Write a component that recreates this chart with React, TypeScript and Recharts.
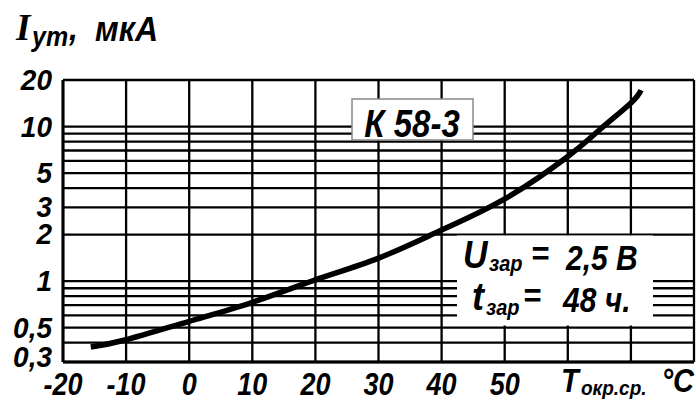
import React from 'react';
import { LineChart, Line, XAxis, YAxis, CartesianGrid } from 'recharts';

// Leakage current vs ambient temperature, capacitor K 58-3
const temps = [-15.6, -10, 0, 10, 20, 30, 40, 50, 60, 65, 70, 71.6];
const current = [0.375, 0.418, 0.55, 0.73, 1.02, 1.41, 2.14, 3.4, 6.4, 9.5, 14.2, 17.2];

const xTicks = [-20, -10, 0, 10, 20, 30, 40, 50, 60, 70, 80];
const xLabels = [-20, -10, 0, 10, 20, 30, 40, 50];
const yTicks = [0.3, 0.4, 0.5, 0.6, 0.7, 0.8, 0.9, 1, 2, 3, 4, 5, 6, 7, 8, 9, 10, 20];
const yLabels = [0.3, 0.5, 1, 2, 3, 5, 10, 20];

const data = temps.map((t, i) => ({ t, i: current[i] }));

const SANS = "'Liberation Sans', Arial, sans-serif";

// bold italic text, stretched a bit vertically like the scan
const Txt = ({ x, y, size, sy = 1.1, anchor = 'start', serif = false, children }: any) => (
  <text
    transform={`translate(${x},${y}) scale(1,${sy})`}
    textAnchor={anchor}
    fontSize={size}
    fontFamily={serif ? "'Liberation Serif', 'Times New Roman', serif" : SANS}
    fontWeight={700}
    fontStyle="italic"
    fill="#000"
  >
    {children}
  </text>
);

const XTick = ({ x, y, payload }: any) => {
  if (!xLabels.includes(payload.value)) return null;
  return <Txt x={x} y={y + 33} size={27} sy={1.15} anchor="middle">{payload.value}</Txt>;
};

const YTick = ({ x, y, payload }: any) => {
  const v = payload.value;
  if (!yLabels.includes(v)) return null;
  const dy = v === 0.3 ? 5 : v === 2 ? 9 : 10;
  return <Txt x={x} y={y + dy} size={28} sy={1.05} anchor="end">{String(v).replace('.', ',')}</Txt>;
};

export default function App() {
  return (
    <div style={{ position: 'absolute', left: 0, top: 0, width: 696, height: 403, background: '#fff' }}>
      <LineChart width={696} height={403} data={data} margin={{ top: 80, right: 2, bottom: 0, left: 0 }}>
        <CartesianGrid stroke="#000" strokeWidth={2.3} />
        <XAxis
          dataKey="t"
          type="number"
          domain={[-20, 80]}
          ticks={xTicks}
          height={41}
          tickSize={0}
          tickMargin={0}
          tickLine={false}
          axisLine={{ stroke: '#000', strokeWidth: 3 }}
          tick={<XTick />}
          interval={0}
        />
        <YAxis
          type="number"
          scale="log"
          domain={[0.3, 20]}
          ticks={yTicks}
          allowDataOverflow
          width={63}
          tickSize={0}
          tickMargin={11}
          tickLine={false}
          axisLine={{ stroke: '#000', strokeWidth: 3 }}
          tick={<YTick />}
          interval={0}
        />
        <Line
          type="natural"
          dataKey="i"
          stroke="#000"
          strokeWidth={5.5}
          dot={false}
          isAnimationActive={false}
        />
      </LineChart>
      <svg width={696} height={403} style={{ position: 'absolute', left: 0, top: 0, pointerEvents: 'none' }}>
        {/* axis title */}
        <Txt x={16} y={40} size={37} sy={1.05} serif>I</Txt>
        <Txt x={32} y={46} size={25}>ут</Txt>
        <Txt x={69} y={40} size={32}>,</Txt>
        <Txt x={95} y={41} size={32}>мкА</Txt>

        {/* K 58-3 label */}
        <rect x={352} y={99} width={121} height={41} fill="#fff" stroke="#888" strokeWidth={1.5} />
        <Txt x={412} y={137} size={33} sy={1.2} anchor="middle">К 58-3</Txt>

        {/* charge conditions */}
        <rect x={457} y={235.5} width={196} height={90} fill="#fff" />
        <Txt x={463} y={268} size={34} sy={1.15}>U</Txt>
        <Txt x={489} y={271} size={20} sy={1.1}>зар</Txt>
        <Txt x={531} y={265} size={31}>=</Txt>
        <Txt x={566} y={270} size={30} sy={1.15}>2,5 В</Txt>
        <Txt x={472} y={310} size={36} sy={1.1}>t</Txt>
        <Txt x={486} y={315} size={20} sy={1.1}>зар</Txt>
        <Txt x={523} y={307} size={31}>=</Txt>
        <Txt x={563} y={312} size={30} sy={1.15}>48 ч.</Txt>

        {/* x axis title */}
        <Txt x={561} y={392} size={29} sy={1.15}>T</Txt>
        <Txt x={581} y={395} size={19}>окр.ср.</Txt>
        <Txt x={694} y={392} size={29} sy={1.15} anchor="end">°C</Txt>
      </svg>
    </div>
  );
}
